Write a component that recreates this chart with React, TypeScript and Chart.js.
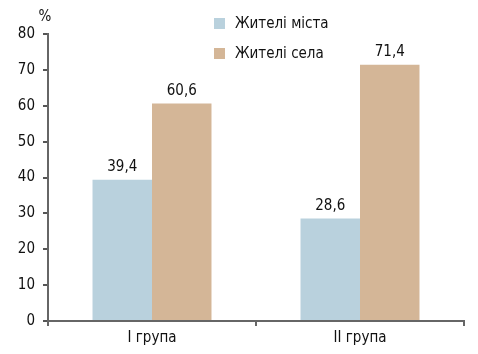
import React, { useEffect, useRef } from "react";
import { Chart, registerables } from "chart.js";

Chart.register(...registerables);

const categories = ["I група", "II група"];
const seriesNames = ["Жителі міста", "Жителі села"];
const cityValues = [39.4, 28.6];
const villageValues = [60.6, 71.4];
const seriesColors = ["#b9d1dd", "#d4b697"];
const yTicks = [0, 10, 20, 30, 40, 50, 60, 70, 80];
const yUnit = "%";

const FONT = '"Liberation Sans Narrow", "Arial Narrow", "DejaVu Sans Condensed", "Roboto", sans-serif';

const fmt = (v: number) => v.toFixed(1).replace(".", ",");

const extrasPlugin = {
  id: "extras",
  afterDatasetsDraw(chart: any) {
    const ctx = chart.ctx;
    const area = chart.chartArea;
    ctx.save();
    ctx.fillStyle = "#111";
    ctx.font = `15px ${FONT}`;
    ctx.textAlign = "center";
    ctx.textBaseline = "bottom";
    chart.data.datasets.forEach((ds: any, di: number) => {
      const meta = chart.getDatasetMeta(di);
      meta.data.forEach((bar: any, i: number) => {
        ctx.fillText(fmt(ds.data[i]), bar.x, bar.y - 5);
      });
    });
    ctx.textAlign = "center";
    ctx.textBaseline = "middle";
    ctx.fillText(yUnit, area.left - 3, area.top - 17);
    ctx.textAlign = "left";
    chart.data.datasets.forEach((ds: any, di: number) => {
      const cy = 23 + di * 30;
      ctx.fillStyle = ds.backgroundColor;
      ctx.fillRect(214, cy - 5, 11, 11);
      ctx.fillStyle = "#111";
      ctx.fillText(ds.label, 235, cy + 1);
    });
    ctx.restore();
  },
};

export default function App() {
  const ref = useRef<HTMLCanvasElement | null>(null);
  useEffect(() => {
    document.body.style.margin = "0";
    const chart = new Chart(ref.current as HTMLCanvasElement, {
      type: "bar",
      data: {
        labels: categories,
        datasets: [
          { label: seriesNames[0], data: cityValues, backgroundColor: seriesColors[0] },
          { label: seriesNames[1], data: villageValues, backgroundColor: seriesColors[1] },
        ],
      },
      options: {
        animation: false,
        responsive: false,
        layout: { padding: { left: 0, right: 14, top: 34, bottom: 0 } },
        datasets: { bar: { categoryPercentage: 0.572, barPercentage: 1 } },
        plugins: { legend: { display: false }, tooltip: { enabled: false } },
        scales: {
          x: {
            grid: {
              offset: true,
              drawOnChartArea: false,
              drawTicks: true,
              tickLength: 5,
              color: "#666",
              lineWidth: 2,
            },
            border: { color: "#666", width: 2 },
            ticks: { color: "#111", font: { family: FONT, size: 15 }, padding: 3 },
            afterFit: (s: any) => { s.height = 33; },
          },
          y: {
            min: 0,
            max: 80,
            afterBuildTicks: (s: any) => { s.ticks = yTicks.map((v) => ({ value: v })); },
            grid: {
              drawOnChartArea: false,
              drawTicks: true,
              tickLength: 5,
              color: "#555",
              lineWidth: 2,
            },
            border: { color: "#666", width: 2 },
            ticks: { color: "#111", font: { family: FONT, size: 15 }, padding: 8 },
            afterFit: (s: any) => { s.width = 48; },
          },
        },
      },
      plugins: [extrasPlugin],
    });
    return () => chart.destroy();
  }, []);
  return (
    <div style={{ width: 478, height: 354, background: "#fff" }}>
      <canvas ref={ref} width={478} height={354} />
    </div>
  );
}
